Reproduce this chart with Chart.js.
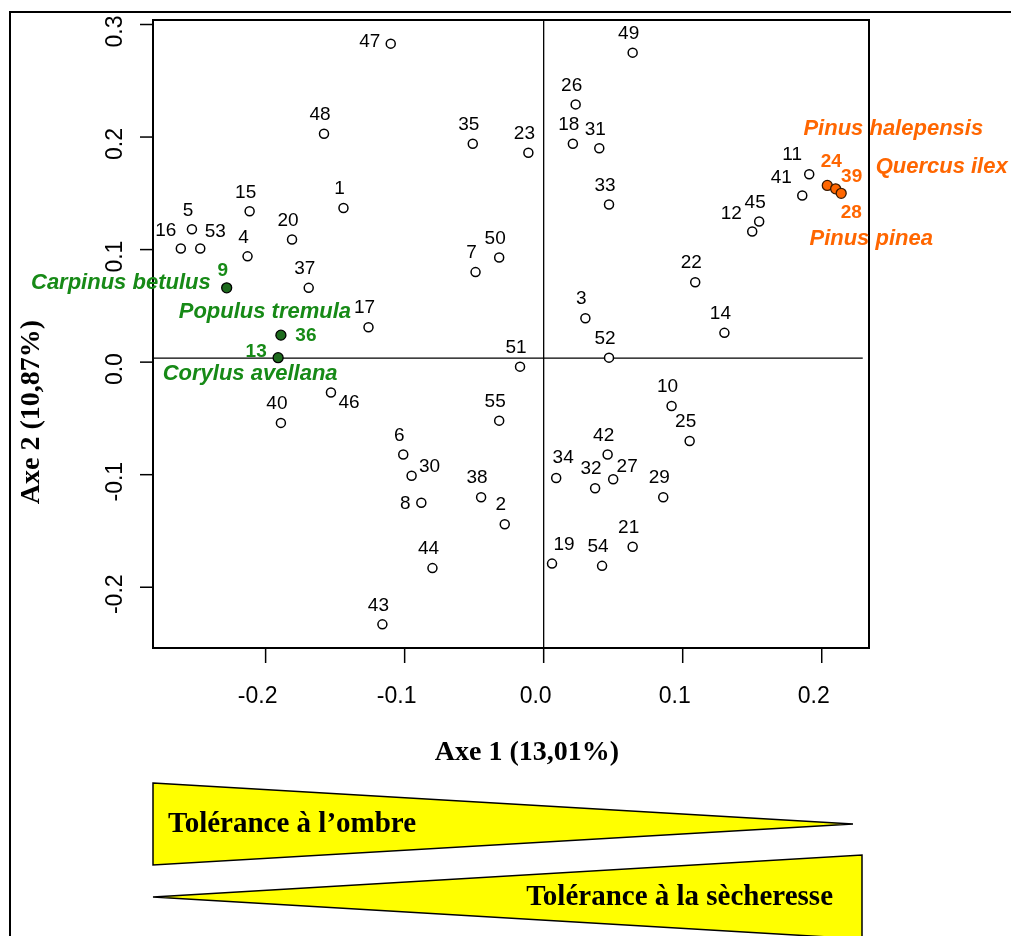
<!DOCTYPE html>
<html>
<head>
<meta charset="utf-8">
<script src="https://cdn.jsdelivr.net/npm/chart.js@4.4.0/dist/chart.umd.min.js"></script>
<style>
  html, body { margin: 0; padding: 0; background: #fff; }
  canvas { display: block; }
</style>
</head>
<body>
<canvas id="acp" width="1011" height="936"></canvas>
<script>
// site numbers and their coordinates on the first two axes
const siteIds = [
  1, 2, 3, 4, 5, 6, 7, 8, 9, 10, 11, 12, 13, 14, 15, 16, 17, 18, 19, 20,
  21, 22, 23, 24, 25, 26, 27, 28, 29, 30, 31, 32, 33, 34, 35, 36, 37, 38, 39, 40,
  41, 42, 43, 44, 45, 46, 47, 48, 49, 50, 51, 52, 53, 54, 55
];
const axe1 = [
  -0.144, -0.028, 0.030, -0.213, -0.253, -0.101, -0.049, -0.088, -0.228, 0.092,
  0.191, 0.150, -0.191, 0.130, -0.2115, -0.261, -0.126, 0.021, 0.006, -0.181,
  0.064, 0.109, -0.011, 0.204, 0.105, 0.023, 0.050, 0.214, 0.086, -0.095,
  0.040, 0.037, 0.047, 0.009, -0.051, -0.189, -0.169, -0.045, 0.210, -0.189,
  0.186, 0.046, -0.116, -0.080, 0.155, -0.153, -0.110, -0.158, 0.064, -0.032,
  -0.017, 0.047, -0.247, 0.042, -0.032
];
const axe2 = [
  0.137, -0.144, 0.039, 0.094, 0.118, -0.082, 0.080, -0.125, 0.066, -0.039,
  0.167, 0.116, 0.004, 0.026, 0.134, 0.101, 0.031, 0.194, -0.179, 0.109,
  -0.164, 0.071, 0.186, 0.157, -0.070, 0.229, -0.104, 0.150, -0.120, -0.101,
  0.190, -0.112, 0.140, -0.103, 0.194, 0.024, 0.066, -0.120, 0.154, -0.054,
  0.148, -0.082, -0.233, -0.183, 0.125, -0.027, 0.283, 0.203, 0.275, 0.093,
  -0.004, 0.004, 0.101, -0.181, -0.052
];

// highlighted sites and the species they stand for
const shadeIds = [9, 36, 13];
const shadeSpecies = ['Carpinus betulus', 'Populus tremula', 'Corylus avellana'];
const droughtIds = [24, 39, 28];
const droughtSpecies = ['Pinus halepensis', 'Quercus ilex', 'Pinus pinea'];

const xTicks = [-0.2, -0.1, 0.0, 0.1, 0.2];
const yTicks = [-0.2, -0.1, 0.0, 0.1, 0.2, 0.3];
const xTitle = 'Axe 1 (13,01%)';
const yTitle = 'Axe 2 (10,87%)';
const gradientTexts = ['Tolérance à l\u2019ombre', 'Tolérance à la sècheresse'];

// label placement (pixels from the point), default is just above
const labelShift = {
  47: [-21, -2], 16: [-15, -18], 53: [15, -17], 11: [-17, -19], 41: [-21, -18],
  12: [-21, -18], 46: [18, 10], 30: [18, -9], 8: [-16, 1], 34: [7, -20],
  27: [14, -12], 19: [12, -19], 36: [25, 1], 13: [-22, -6], 9: [-4, -17],
  24: [4, -24], 39: [16, -12], 28: [10, 19]
};
// species names: [dx, dy, align] from their site point
const speciesShift = {
  9: [-16, -5, 'right'], 36: [-16, -23, 'center'], 13: [-28, 16, 'center'],
  24: [66, -57, 'center'], 39: [40, -22, 'left'], 28: [30, 46, 'center']
};

const GREEN = '#178a17';
const ORANGE = '#ff6600';

const point = id => ({ x: axe1[id - 1], y: axe2[id - 1], id: id });
const highlighted = shadeIds.concat(droughtIds);
const otherPoints = siteIds.filter(id => !highlighted.includes(id)).map(point);

const decor = {
  id: 'decor',
  beforeDatasetsDraw(chart) {
    const { ctx, chartArea: a, scales: { x, y } } = chart;
    ctx.save();
    ctx.strokeStyle = '#000';

    // page frame
    ctx.lineWidth = 2;
    ctx.beginPath();
    ctx.moveTo(10, chart.height);
    ctx.lineTo(10, 12);
    ctx.lineTo(chart.width, 12);
    ctx.stroke();

    // plot box
    ctx.strokeRect(a.left, a.top, a.right - a.left, a.bottom - a.top);

    // zero lines
    ctx.lineWidth = 1.3;
    ctx.beginPath();
    const y0 = y.getPixelForValue(0.0035);
    ctx.moveTo(a.left, y0);
    ctx.lineTo(x.getPixelForValue(0.2295), y0);
    const x0 = x.getPixelForValue(0);
    ctx.moveTo(x0, a.top);
    ctx.lineTo(x0, a.bottom);
    ctx.stroke();

    // ticks
    ctx.lineWidth = 1.5;
    ctx.fillStyle = '#000';
    ctx.font = '23px "Liberation Sans", Arial, sans-serif';
    ctx.textAlign = 'center';
    ctx.textBaseline = 'middle';
    xTicks.forEach(v => {
      const px = x.getPixelForValue(v);
      ctx.beginPath();
      ctx.moveTo(px, a.bottom);
      ctx.lineTo(px, a.bottom + 15);
      ctx.stroke();
      ctx.fillText(v.toFixed(1), px - 8, a.bottom + 49);
    });
    yTicks.forEach(v => {
      const py = y.getPixelForValue(v);
      ctx.beginPath();
      ctx.moveTo(a.left - 13, py);
      ctx.lineTo(a.left, py);
      ctx.stroke();
      ctx.save();
      ctx.translate(a.left - 37, py + 7);
      ctx.rotate(-Math.PI / 2);
      ctx.fillText(v.toFixed(1), 0, 0);
      ctx.restore();
    });

    // axis titles
    ctx.font = 'bold 28px "Liberation Serif", "Times New Roman", serif';
    ctx.textBaseline = 'alphabetic';
    ctx.fillText(xTitle, (a.left + a.right) / 2 + 16, a.bottom + 112);
    ctx.save();
    ctx.translate(39, 412);
    ctx.rotate(-Math.PI / 2);
    ctx.fillText(yTitle, 0, 0);
    ctx.restore();

    // gradient wedges under the plot
    ctx.fillStyle = '#ffff00';
    ctx.lineWidth = 1.5;
    ctx.beginPath();
    ctx.moveTo(a.left, a.bottom + 135);
    ctx.lineTo(a.right - 16, a.bottom + 176);
    ctx.lineTo(a.left, a.bottom + 217);
    ctx.closePath();
    ctx.fill();
    ctx.stroke();
    ctx.beginPath();
    ctx.moveTo(a.left, a.bottom + 249);
    ctx.lineTo(a.right - 7, a.bottom + 207);
    ctx.lineTo(a.right - 7, a.bottom + 291);
    ctx.closePath();
    ctx.fill();
    ctx.stroke();

    ctx.fillStyle = '#000';
    ctx.font = 'bold 29px "Liberation Serif", "Times New Roman", serif';
    ctx.textAlign = 'left';
    ctx.fillText(gradientTexts[0], a.left + 15, a.bottom + 184);
    ctx.textAlign = 'right';
    ctx.fillText(gradientTexts[1], a.right - 36, a.bottom + 257);
    ctx.restore();
  },
  afterDatasetsDraw(chart) {
    const { ctx } = chart;
    ctx.save();
    ctx.textAlign = 'center';
    ctx.textBaseline = 'middle';
    chart.data.datasets.forEach((ds, i) => {
      const meta = chart.getDatasetMeta(i);
      meta.data.forEach((el, j) => {
        const id = ds.data[j].id;
        const [dx, dy] = labelShift[id] || [-4, -19];
        ctx.fillStyle = ds.labelColor;
        ctx.font = (ds.labelColor === '#000' ? '' : 'bold ') + '19px "Liberation Sans", Arial, sans-serif';
        ctx.textAlign = 'center';
        ctx.fillText(String(id), el.x + dx, el.y + dy);
        if (ds.species) {
          const [sx, sy, align] = speciesShift[id];
          ctx.font = 'italic bold 22px "Liberation Sans", Arial, sans-serif';
          ctx.textAlign = align;
          ctx.fillText(ds.species[j], el.x + sx, el.y + sy);
        }
      });
    });
    ctx.restore();
  }
};

new Chart(document.getElementById('acp'), {
  type: 'scatter',
  data: {
    datasets: [
      {
        label: 'sites',
        data: otherPoints,
        pointRadius: 4.5,
        pointBorderWidth: 1.5,
        pointBorderColor: '#000',
        pointBackgroundColor: '#fff',
        labelColor: '#000'
      },
      {
        label: 'shade tolerant',
        data: shadeIds.map(point),
        species: shadeSpecies,
        pointRadius: 5,
        pointBorderWidth: 1.3,
        pointBorderColor: '#000',
        pointBackgroundColor: '#1d6b1d',
        labelColor: GREEN
      },
      {
        label: 'drought tolerant',
        data: droughtIds.map(point),
        species: droughtSpecies,
        pointRadius: 5,
        pointBorderWidth: 1.3,
        pointBorderColor: '#3a1a00',
        pointBackgroundColor: ORANGE,
        labelColor: ORANGE
      }
    ]
  },
  options: {
    responsive: false,
    animation: false,
    devicePixelRatio: 1,
    layout: { padding: { left: 153, top: 20, right: 142, bottom: 288 } },
    plugins: { legend: { display: false }, tooltip: { enabled: false } },
    scales: {
      x: { type: 'linear', min: -0.281, max: 0.234, display: false },
      y: { type: 'linear', min: -0.254, max: 0.304, display: false }
    }
  },
  plugins: [decor]
});
</script>
</body>
</html>
